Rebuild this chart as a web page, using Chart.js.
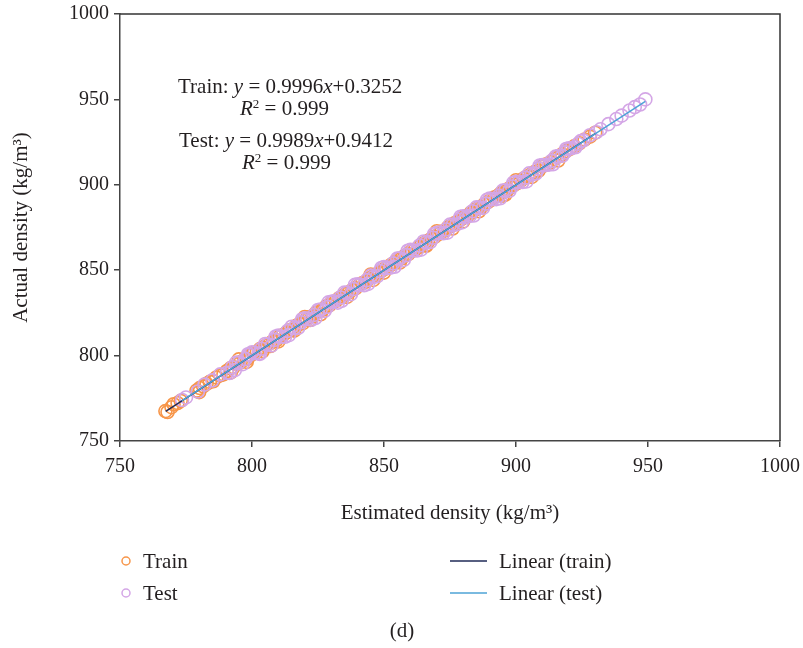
<!DOCTYPE html>
<html lang="en">
<head>
    <meta charset="UTF-8">
    <title>Estimated vs actual density (d)</title>
    <script src="https://cdn.jsdelivr.net/npm/chart.js"></script>
    <style>
        body { margin: 0; background: #fff; }
        canvas { display: block; }
    </style>
</head>
<body>
    <canvas id="myChart" width="803" height="648"></canvas>

    <script>
        // values (kg/m3)
        const trainX = [767.2, 768.0, 769.5, 770.3, 771.8, 773.0, 779.0, 780.2, 781.5, 782.8, 784.0, 785.3, 786.5, 788.0, 789.2,
            790.5, 791.8, 793.0, 794.5, 795.7, 797.0, 798.2, 799.5, 800.6, 801.8, 803.0, 804.2, 805.5, 806.8, 808.0,
            809.3, 810.5, 811.7, 813.0, 814.2, 815.5, 816.8, 818.0, 819.3, 820.5, 821.8, 823.0, 824.2, 825.5, 826.8,
            828.0, 829.3, 830.5, 831.8, 833.0, 834.2, 835.5, 836.7, 838.0, 839.2, 840.5, 841.7, 843.0, 844.2, 845.5,
            846.7, 848.0, 849.2, 850.5, 851.7, 853.0, 854.2, 855.5, 856.7, 858.0, 859.2, 860.5, 861.7, 863.0, 864.2,
            865.5, 866.7, 868.0, 869.2, 870.5, 871.7, 873.0, 874.2, 875.5, 876.7, 878.0, 879.2, 880.5, 881.7, 883.0,
            884.2, 885.5, 886.7, 888.0, 889.2, 890.5, 891.7, 893.0, 894.2, 895.5, 896.7, 898.0, 899.3, 900.5, 901.8,
            903.0, 904.5, 905.8, 907.0, 908.5, 910.0, 911.5, 913.0, 914.5, 916.0, 917.5, 919.0, 920.5, 922.0, 924.0,
            926.0, 928.0, 930.0, 780.0, 807.0, 822.0, 850.0, 866.0, 880.0, 895.0,
            792.0, 798.0, 804.0, 810.0, 816.0, 826.0, 836.0, 846.0, 856.0, 866.0, 876.0, 886.0, 896.0, 906.0, 916.0,
            795.0, 820.0, 845.0, 870.0, 900.0];
        const trainY = [767.5, 767.0, 769.8, 771.5, 772.2, 773.5, 779.5, 781.0, 782.0, 783.5, 784.6, 785.0, 787.2, 788.5, 789.0,
            791.0, 792.5, 793.2, 795.0, 796.2, 797.5, 798.0, 800.1, 801.5, 802.0, 803.8, 804.5, 806.0, 807.2, 808.4,
            809.0, 811.2, 812.0, 813.5, 814.8, 815.2, 817.5, 818.6, 819.0, 821.0, 822.4, 823.2, 825.0, 826.0, 827.0,
            828.7, 829.5, 831.2, 832.0, 833.6, 834.5, 836.2, 837.0, 838.5, 839.4, 841.0, 842.3, 843.2, 845.0, 846.0,
            847.1, 848.4, 849.8, 851.0, 852.2, 853.5, 854.6, 856.2, 857.0, 858.6, 859.5, 861.2, 862.0, 863.4, 865.0,
            866.0, 867.2, 868.5, 869.6, 871.0, 872.5, 873.2, 875.0, 876.0, 877.5, 878.5, 879.8, 881.3, 882.0, 883.8,
            885.0, 886.2, 887.0, 888.6, 889.8, 891.0, 892.5, 893.4, 895.0, 896.0, 897.2, 898.5, 900.0, 901.0, 902.5,
            903.8, 905.0, 906.2, 907.5, 908.2, 910.8, 912.0, 913.2, 915.0, 916.5, 918.0, 919.8, 921.0, 922.5, 924.3,
            926.5, 928.2, 930.5, 778.6, 805.6, 820.8, 848.6, 864.8, 878.6, 893.6,
            790.2, 796.3, 802.5, 808.3, 814.6, 824.2, 834.4, 844.3, 854.5, 864.3, 874.4, 884.5, 894.3, 904.6, 914.2,
            797.8, 822.6, 847.5, 872.8, 902.7];

        const testX = [773.5, 775.0, 779.5, 782.0, 785.0, 788.0, 790.5, 792.5, 795.0, 797.5, 799.0, 801.0, 803.5, 806.0, 808.5,
            811.0, 813.5, 816.0, 818.5, 821.0, 823.5, 826.0, 828.5, 831.0, 833.5, 836.0, 838.5, 841.0, 843.5, 846.0,
            848.5, 851.0, 853.5, 856.0, 858.5, 861.0, 863.5, 866.0, 868.5, 871.0, 873.5, 876.0, 878.5, 879.5, 881.0,
            883.5, 886.0, 888.5, 891.0, 893.5, 896.0, 898.5, 901.0, 903.5, 906.0, 908.5, 911.0, 913.5, 916.0, 918.5,
            921.0, 923.5, 925.5, 928.0, 930.5, 932.0, 935.0, 938.0, 940.0, 943.0, 945.0, 947.0, 949.0,
            791.5, 794.0, 796.5, 800.0, 802.5, 805.0, 807.5, 810.0, 812.5, 815.0, 817.5, 820.0, 822.5, 825.0, 827.5,
            830.0, 832.5, 835.0, 837.5, 840.0, 842.5, 845.0, 847.5, 850.0, 852.5, 855.0, 857.5, 860.0, 862.5, 865.0,
            867.5, 870.0, 872.5, 875.0, 877.5, 880.0, 882.5, 885.0, 887.5, 890.0, 892.5, 895.0, 897.5, 900.0, 902.5,
            905.0, 907.5, 910.0, 912.5, 915.0, 917.5, 920.0, 922.5, 924.5,
            793.5, 798.5, 803.0, 809.0, 814.0, 819.0, 824.0, 829.0, 834.0, 839.0, 844.0, 849.0, 854.0, 859.0, 864.0,
            869.0, 874.0, 879.0, 884.0, 889.0, 894.0, 899.0, 904.0, 909.0, 914.0, 919.0];
        const testY = [774.0, 775.5, 779.0, 783.0, 785.5, 789.0, 790.0, 793.2, 795.8, 798.0, 800.5, 801.5, 804.0, 806.5, 809.2,
            811.0, 814.5, 816.2, 819.5, 821.5, 823.8, 827.0, 828.5, 831.8, 834.0, 836.8, 839.0, 841.5, 844.2, 846.0,
            849.5, 851.2, 854.0, 857.0, 858.8, 861.5, 864.5, 866.2, 869.0, 872.0, 873.8, 876.5, 879.5, 878.0, 881.0,
            884.5, 886.5, 889.0, 891.5, 893.5, 896.8, 899.0, 901.5, 904.2, 906.0, 909.5, 911.5, 914.0, 916.8, 919.0,
            921.5, 924.0, 926.0, 929.0, 930.8, 932.5, 935.5, 938.5, 940.5, 943.5, 945.5, 947.0, 950.0,
            789.8, 795.9, 795.0, 802.0, 801.2, 806.8, 806.0, 811.8, 811.0, 816.9, 816.3, 821.9, 821.0, 826.7, 826.2,
            831.5, 831.0, 836.9, 836.0, 841.7, 841.2, 846.8, 846.5, 851.9, 851.5, 856.8, 856.0, 861.9, 861.5, 866.8,
            866.5, 871.9, 871.6, 876.7, 876.8, 881.6, 881.8, 886.8, 886.5, 891.9, 891.6, 896.6, 896.5, 901.8, 901.6,
            906.7, 906.6, 911.6, 911.8, 916.5, 917.0, 921.4, 922.0, 925.6,
            791.5, 800.8, 801.0, 811.2, 812.0, 821.3, 822.0, 831.2, 832.1, 841.4, 842.0, 851.3, 852.0, 861.4, 862.0,
            871.2, 872.0, 881.3, 882.0, 891.2, 892.1, 901.2, 902.0, 911.3, 912.0, 921.0];

        // linear fits printed on the chart: [slope, intercept], and x span of each fit line
        const fitTrain = [0.9996, 0.3252];
        const fitTest = [0.9989, 0.9412];
        const spanTrain = [767.3, 930];
        const spanTest = [773.5, 949];

        const axisTicks = [750, 800, 850, 900, 950, 1000];

        const FONT = '"Liberation Serif", "Times New Roman", serif';
        const TXT = '#231f20';
        const ORANGE = '#f7964a';
        const PURPLE = '#d4a6e6';
        const NAVY = '#1f2a57';
        const LBLUE = '#4ea3d6';

        const zip = (xs, ys) => xs.map((x, i) => ({ x: x, y: ys[i] }));
        const fitLine = (fit, span) => span.map(x => ({ x: x, y: fit[0] * x + fit[1] }));

        // 이탤릭·위첨자 섞인 텍스트를 왼쪽부터 이어서 그림
        function drawRuns(ctx, runs, x, y) {
            const fontOf = r => (r.i ? 'italic ' : '') + (r.sup ? 13 : 21) + 'px ' + FONT;
            let cx = x;
            ctx.textAlign = 'left';
            ctx.textBaseline = 'alphabetic';
            runs.forEach(r => {
                ctx.font = fontOf(r);
                ctx.fillText(r.t, cx, r.sup ? y - 7 : y);
                cx += ctx.measureText(r.t).width;
            });
        }

        const framePlugin = {
            id: 'framePlugin',
            afterDraw: (chart) => {
                const { ctx, chartArea: a } = chart;
                ctx.save();
                // top and right edges of the box
                ctx.strokeStyle = '#333';
                ctx.lineWidth = 1.5;
                ctx.beginPath();
                ctx.moveTo(a.left, a.top);
                ctx.lineTo(a.right, a.top);
                ctx.lineTo(a.right, a.bottom);
                ctx.stroke();

                // equations
                ctx.fillStyle = TXT;
                drawRuns(ctx, [{ t: 'Train: ' }, { t: 'y', i: true }, { t: ' = 0.9996' }, { t: 'x', i: true }, { t: '+0.3252' }], 178, 93);
                drawRuns(ctx, [{ t: 'R', i: true }, { t: '2', sup: true }, { t: ' = 0.999' }], 240, 115);
                drawRuns(ctx, [{ t: 'Test: ' }, { t: 'y', i: true }, { t: ' = 0.9989' }, { t: 'x', i: true }, { t: '+0.9412' }], 179, 147);
                drawRuns(ctx, [{ t: 'R', i: true }, { t: '2', sup: true }, { t: ' = 0.999' }], 242, 169);

                // legend (two columns)
                const ds = chart.data.datasets;
                ctx.font = '21px ' + FONT;
                ctx.textBaseline = 'middle';
                ctx.textAlign = 'left';
                [[ds[0], 126, 561], [ds[1], 126, 593]].forEach(([d, x, y]) => {
                    ctx.strokeStyle = d.borderColor;
                    ctx.lineWidth = 1.5;
                    ctx.beginPath();
                    ctx.arc(x, y, 4, 0, Math.PI * 2);
                    ctx.stroke();
                    ctx.fillText(d.label, 143, y + 1);
                });
                [[ds[2], 561], [ds[3], 593]].forEach(([d, y]) => {
                    ctx.strokeStyle = d.borderColor;
                    ctx.lineWidth = 1.5;
                    ctx.beginPath();
                    ctx.moveTo(450, y);
                    ctx.lineTo(487, y);
                    ctx.stroke();
                    ctx.fillText(d.label, 499, y + 1);
                });

                ctx.textAlign = 'center';
                ctx.fillText('(d)', 402, 631);
                ctx.restore();
            }
        };

        const axisCommon = {
            type: 'linear',
            min: 750,
            max: 1000,
            grid: { display: true, drawOnChartArea: false, drawTicks: true, tickLength: 6, color: '#444', lineWidth: 1.5 },
            border: { display: true, color: '#444', width: 1.5 },
            afterBuildTicks: (scale) => { scale.ticks = axisTicks.map(v => ({ value: v })); }
        };

        const config = {
            type: 'scatter',
            data: {
                datasets: [
                    {
                        label: 'Train',
                        data: zip(trainX, trainY),
                        borderColor: ORANGE,
                        backgroundColor: 'rgba(0,0,0,0)',
                        pointRadius: 6.5,
                        borderWidth: 1.6,
                        order: 3
                    },
                    {
                        label: 'Test',
                        data: zip(testX, testY),
                        borderColor: PURPLE,
                        backgroundColor: 'rgba(0,0,0,0)',
                        pointRadius: 6.5,
                        borderWidth: 1.6,
                        order: 2
                    },
                    {
                        type: 'line',
                        label: 'Linear (train)',
                        data: fitLine(fitTrain, spanTrain),
                        borderColor: NAVY,
                        borderWidth: 1.5,
                        pointRadius: 0,
                        order: 1
                    },
                    {
                        type: 'line',
                        label: 'Linear (test)',
                        data: fitLine(fitTest, spanTest),
                        borderColor: LBLUE,
                        borderWidth: 1.5,
                        pointRadius: 0,
                        order: 0
                    }
                ]
            },
            options: {
                responsive: false,
                animation: false,
                layout: { padding: { left: 0, top: 14, right: 23, bottom: 118 } },
                plugins: {
                    legend: { display: false },
                    tooltip: { enabled: false }
                },
                scales: {
                    x: Object.assign({}, axisCommon, {
                        position: 'bottom',
                        ticks: { color: TXT, font: { family: FONT, size: 20 }, padding: 8, maxRotation: 0, callback: v => String(v) },
                        title: {
                            display: true,
                            text: 'Estimated density (kg/m³)',
                            color: TXT,
                            font: { family: FONT, size: 21 },
                            padding: { top: 4, bottom: 4 }
                        },
                        afterFit: (scale) => {
                            scale.height = 89;
                            scale.paddingLeft = 0;
                            scale.paddingRight = 0;
                        }
                    }),
                    y: Object.assign({}, axisCommon, {
                        position: 'left',
                        ticks: { color: TXT, font: { family: FONT, size: 20 }, padding: 5, callback: v => String(v) },
                        title: {
                            display: true,
                            text: 'Actual density (kg/m³)',
                            color: TXT,
                            font: { family: FONT, size: 21 },
                            padding: { top: 9, bottom: 0 }
                        },
                        afterFit: (scale) => {
                            scale.width = 120;
                            scale.paddingTop = 0;
                            scale.paddingBottom = 0;
                        }
                    })
                }
            },
            plugins: [framePlugin]
        };

        new Chart(document.getElementById('myChart').getContext('2d'), config);
    </script>
</body>
</html>
